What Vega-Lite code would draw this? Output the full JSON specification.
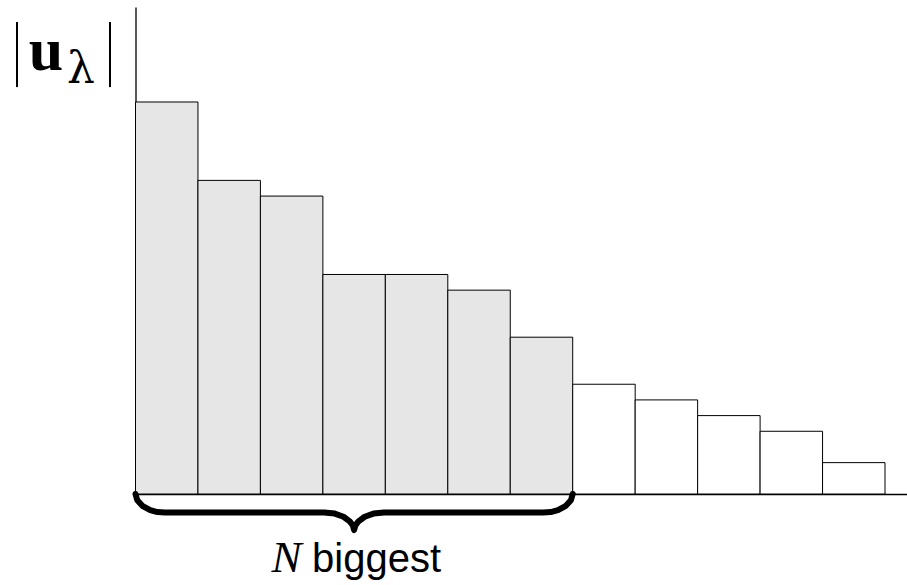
{
  "$schema": "https://vega.github.io/schema/vega-lite/v6.json",
  "width": 771.5,
  "height": 487,
  "autosize": "none",
  "padding": {"left": 135.5, "top": 7, "right": 0, "bottom": 91},
  "background": "white",
  "config": {
    "view": {"stroke": null},
    "axis": {"domainColor": "black", "domainWidth": 1.3, "ticks": false, "labels": false, "grid": false, "title": null}
  },
  "datasets": {
    "bars": [
      {"lo": 0, "hi": 1, "v": 1.0, "group": "N biggest"},
      {"lo": 1, "hi": 2, "v": 0.8, "group": "N biggest"},
      {"lo": 2, "hi": 3, "v": 0.76, "group": "N biggest"},
      {"lo": 3, "hi": 4, "v": 0.56, "group": "N biggest"},
      {"lo": 4, "hi": 5, "v": 0.56, "group": "N biggest"},
      {"lo": 5, "hi": 6, "v": 0.52, "group": "N biggest"},
      {"lo": 6, "hi": 7, "v": 0.4, "group": "N biggest"},
      {"lo": 7, "hi": 8, "v": 0.28, "group": "rest"},
      {"lo": 8, "hi": 9, "v": 0.24, "group": "rest"},
      {"lo": 9, "hi": 10, "v": 0.2, "group": "rest"},
      {"lo": 10, "hi": 11, "v": 0.16, "group": "rest"},
      {"lo": 11, "hi": 12, "v": 0.08, "group": "rest"}
    ],
    "brace": [
      {"bx": 0, "by": 0},
      {"bx": 0.029, "by": -0.016},
      {"bx": 0.11, "by": -0.03},
      {"bx": 0.236, "by": -0.041},
      {"bx": 0.351, "by": -0.046},
      {"bx": 0.472, "by": -0.047},
      {"bx": 3.02, "by": -0.047},
      {"bx": 3.19, "by": -0.05},
      {"bx": 3.33, "by": -0.058},
      {"bx": 3.43, "by": -0.07},
      {"bx": 3.48, "by": -0.08},
      {"bx": 3.5, "by": -0.092},
      {"bx": 3.52, "by": -0.08},
      {"bx": 3.57, "by": -0.07},
      {"bx": 3.67, "by": -0.058},
      {"bx": 3.81, "by": -0.05},
      {"bx": 3.98, "by": -0.047},
      {"bx": 6.528, "by": -0.047},
      {"bx": 6.649, "by": -0.046},
      {"bx": 6.764, "by": -0.041},
      {"bx": 6.89, "by": -0.03},
      {"bx": 6.971, "by": -0.016},
      {"bx": 7, "by": 0}
    ],
    "one": [{}]
  },
  "layer": [
    {
      "data": {"name": "bars"},
      "mark": {"type": "rect", "stroke": "black", "strokeWidth": 1},
      "encoding": {
        "x": {"field": "lo", "type": "quantitative", "scale": {"domain": [0, 12.352], "nice": false, "zero": true}, "axis": {"orient": "bottom"}},
        "x2": {"field": "hi"},
        "y": {"field": "v", "type": "quantitative", "scale": {"domain": [0, 1.2423], "nice": false, "zero": true}, "axis": {"orient": "left"}},
        "y2": {"datum": 0},
        "fill": {"field": "group", "type": "nominal", "scale": {"domain": ["N biggest", "rest"], "range": ["#e6e6e6", "#ffffff"]}, "legend": null}
      }
    },
    {
      "data": {"name": "brace"},
      "mark": {"type": "line", "color": "black", "strokeWidth": 6, "strokeCap": "round", "strokeJoin": "round", "clip": false},
      "encoding": {
        "x": {"field": "bx", "type": "quantitative"},
        "y": {"field": "by", "type": "quantitative"}
      }
    },
    {
      "data": {"name": "one"},
      "mark": {"type": "rule", "color": "black", "strokeWidth": 2},
      "encoding": {
        "x": {"datum": -1.897, "type": "quantitative"},
        "y": {"datum": 1.204, "type": "quantitative"},
        "y2": {"datum": 1.038}
      }
    },
    {
      "data": {"name": "one"},
      "mark": {"type": "rule", "color": "black", "strokeWidth": 2},
      "encoding": {
        "x": {"datum": -0.408, "type": "quantitative"},
        "y": {"datum": 1.204, "type": "quantitative"},
        "y2": {"datum": 1.038}
      }
    },
    {
      "data": {"name": "one"},
      "mark": {"type": "text", "text": "u", "font": "Liberation Serif", "fontWeight": "bold", "fontSize": 62, "align": "center", "baseline": "alphabetic", "color": "black"},
      "encoding": {
        "x": {"datum": -1.433, "type": "quantitative"},
        "y": {"datum": 1.0816, "type": "quantitative"}
      }
    },
    {
      "data": {"name": "one"},
      "mark": {"type": "text", "text": "λ", "font": "DejaVu Serif", "fontSize": 44, "align": "center", "baseline": "alphabetic", "color": "black"},
      "encoding": {
        "x": {"datum": -0.873, "type": "quantitative"},
        "y": {"datum": 1.0485, "type": "quantitative"}
      }
    },
    {
      "data": {"name": "one"},
      "mark": {"type": "text", "text": "N", "font": "Liberation Serif", "fontStyle": "italic", "fontSize": 45, "align": "center", "baseline": "alphabetic", "color": "black"},
      "encoding": {
        "x": {"datum": 2.418, "type": "quantitative"},
        "y": {"datum": -0.199, "type": "quantitative"}
      }
    },
    {
      "data": {"name": "one"},
      "mark": {"type": "text", "text": "biggest", "font": "Liberation Sans", "fontSize": 40, "align": "left", "baseline": "alphabetic", "color": "black"},
      "encoding": {
        "x": {"datum": 2.826, "type": "quantitative"},
        "y": {"datum": -0.199, "type": "quantitative"}
      }
    }
  ]
}
